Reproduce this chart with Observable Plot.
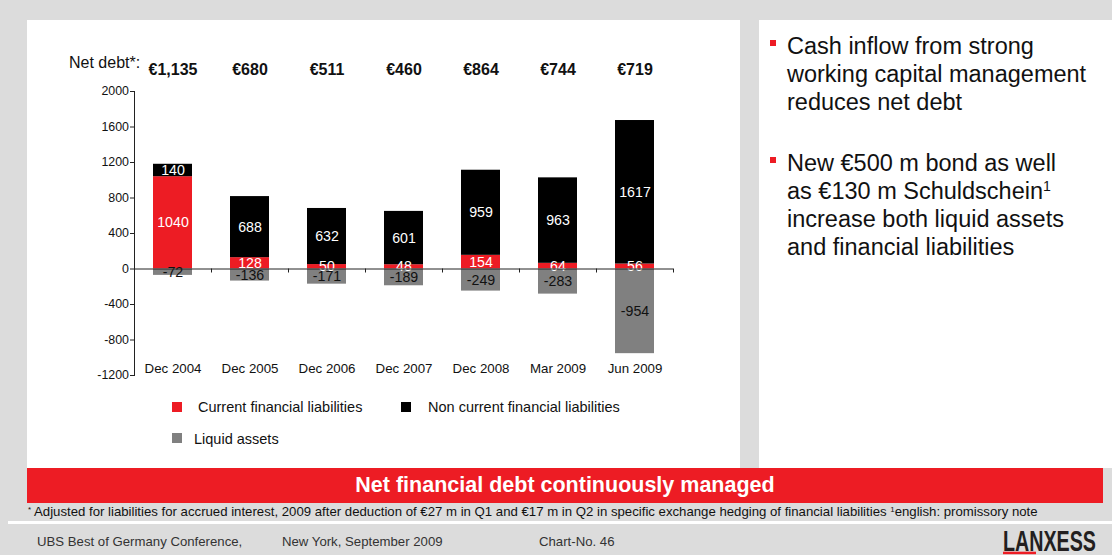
<!DOCTYPE html>
<html>
<head>
<meta charset="utf-8">
<script src="https://cdn.jsdelivr.net/npm/d3@7"></script>
<script src="https://cdn.jsdelivr.net/npm/@observablehq/plot@0.6"></script>
<style>
html,body{margin:0;padding:0;background:#dcdcdc;}
#page{position:relative;width:1112px;height:555px;overflow:hidden;background:#dcdcdc;font-family:"Liberation Sans",Arial,sans-serif;color:#111;}
.abs{position:absolute;white-space:nowrap;}
.panel{position:absolute;background:#fff;}
#chart{position:absolute;left:27px;top:20px;}
#chart svg{display:block;overflow:visible;}
.bullets{position:absolute;left:770px;top:33px;font-size:23.5px;line-height:27.8px;color:#111;}
.bullet{position:relative;padding-left:17px;margin-bottom:34px;}
.bullet::before{content:"";position:absolute;left:0;top:7px;width:6px;height:6px;background:#ed1c24;}
.sup{font-size:0.6em;vertical-align:0.55em;line-height:0;}
.legsq{position:absolute;width:10px;height:10px;}
.legtx{position:absolute;font-size:14.5px;line-height:16px;white-space:nowrap;color:#111;}
</style>
</head>
<body>
<div id="page">
  <div class="panel" style="left:27px;top:20px;width:713px;height:448px;"></div>
  <div class="panel" style="left:759px;top:20px;width:353px;height:448px;"></div>
  <div id="chart"></div>
  <div class="abs" style="left:69px;top:54px;font-size:16px;line-height:18px;color:#111;">Net debt*:</div>
  <div id="legend"></div>
  <div class="bullets">
    <div class="bullet">Cash inflow from strong<br>working capital management<br>reduces net debt</div>
    <div class="bullet">New €500 m bond as well<br>as €130 m Schuldschein<span class="sup">1</span><br>increase both liquid assets<br>and financial liabilities</div>
  </div>
  <div class="abs" style="left:27px;top:468px;width:1076px;height:35px;background:#ed1c24;color:#fff;font-weight:bold;font-size:21.5px;line-height:35px;text-align:center;">Net financial debt continuously managed</div>
  <div class="abs" style="left:28px;top:504px;font-size:13.2px;line-height:16px;color:#111;"><span class="sup">*</span> Adjusted for liabilities for accrued interest, 2009 after deduction of €27 m in Q1 and €17 m in Q2 in specific exchange hedging of financial liabilities <span class="sup">1</span>english: promissory note</div>
  <div class="abs" style="left:8px;top:521px;width:1104px;height:3px;background:#fff;"></div>
  <div class="abs" style="left:37px;top:534px;font-size:13.2px;line-height:16px;color:#333;">UBS Best of Germany Conference,</div>
  <div class="abs" style="left:282px;top:534px;font-size:13.2px;line-height:16px;color:#333;">New York, September 2009</div>
  <div class="abs" style="left:539px;top:534px;font-size:13.2px;line-height:16px;color:#333;">Chart-No. 46</div>
  <svg class="abs" style="left:995px;top:525px;" width="117" height="30">
    <text x="8" y="25.5" font-family="Liberation Sans Narrow, Arial Narrow, Liberation Sans, sans-serif" font-weight="bold" font-size="28.6" fill="#231f20" textLength="93" lengthAdjust="spacingAndGlyphs">LANXESS</text>
    <rect x="8" y="26.7" width="33" height="2.5" fill="#ed1c24"></rect>
  </svg>
</div>
<script>
const categories = ["Dec 2004","Dec 2005","Dec 2006","Dec 2007","Dec 2008","Mar 2009","Jun 2009"];
const currentLiabilities = [1040,128,50,48,154,64,56];
const nonCurrentLiabilities = [140,688,632,601,959,963,1617];
const liquidAssets = [-72,-136,-171,-189,-249,-283,-954];
const netDebtLabels = ["€1,135","€680","€511","€460","€864","€744","€719"];
const yTickValues = [-1200,-800,-400,0,400,800,1200,1600,2000];
const seriesNames = ["Current financial liabilities","Non current financial liabilities","Liquid assets"];
const seriesColors = ["#ed1c24","#000000","#808080"];

const rows = categories.flatMap((c,i)=>[
  {category:c, series:seriesNames[0], value:currentLiabilities[i]},
  {category:c, series:seriesNames[1], value:nonCurrentLiabilities[i]},
  {category:c, series:seriesNames[2], value:liquidAssets[i]}
]);
const liabRows = rows.filter(d=>d.series!==seriesNames[2]);
const liquidRows = rows.filter(d=>d.series===seriesNames[2]);

const fontFamily = '"Liberation Sans", Arial, sans-serif';

// small tick marks under the zero line at the category slot boundaries
const boundaryTicks = (index, scales) => {
  const x = scales.x, y = scales.y;
  const g = d3.create("svg:g").attr("stroke","#222").attr("stroke-width",1);
  for (const c of x.domain()) {
    const xe = Math.round(x(c) + x.bandwidth() + (x.step()-x.bandwidth())/2) + 0.5;
    g.append("line").attr("x1",xe).attr("x2",xe).attr("y1",y(0)).attr("y2",y(0)+4);
  }
  return g.node();
};

const chart = Plot.plot({
  width:713, height:380,
  marginLeft:107, marginRight:67, marginTop:71, marginBottom:25,
  style:{background:"transparent", fontFamily, color:"#1a1a1a", overflow:"visible"},
  x:{domain:categories, paddingInner:0.5, paddingOuter:0.25, axis:null},
  y:{domain:[-1200,2000], axis:null},
  color:{domain:seriesNames, range:seriesColors},
  marks:[
    Plot.barY(rows, {x:"category", y:"value", fill:"series"}),
    Plot.text(liabRows, Plot.stackY({x:"category", y:"value", z:"series", text:d=>String(d.value), fill:"#fff", fontSize:14.2})),
    Plot.text(liquidRows, Plot.stackY({x:"category", y:"value", z:"series", text:d=>String(d.value), fill:"#111", fontSize:14.2})),
    Plot.ruleY([0], {stroke:"#222"}),
    Plot.frame({anchor:"left", stroke:"#222"}),
    Plot.axisY({ticks:yTickValues, tickSize:4, tickPadding:1.5, tickFormat:d=>String(d), fontSize:12.4, label:null, stroke:"#222", fill:"#111"}),
    boundaryTicks,
    Plot.text(categories, {x:d=>d, text:d=>d, frameAnchor:"bottom", dy:-3, fontSize:13.3, fill:"#111"}),
    Plot.text(netDebtLabels, {x:(d,i)=>categories[i], text:d=>d, frameAnchor:"top", dy:-28, fontSize:16, fontWeight:"bold", fill:"#111"})
  ]
});
document.getElementById("chart").appendChild(chart);

// legend
const legendPos = [
  {sq:[172,402], tx:[198,399]},
  {sq:[401,402], tx:[428,399]},
  {sq:[172,433], tx:[194,431]}
];
const legend = document.getElementById("legend");
seriesNames.forEach((name,i)=>{
  const p = legendPos[i];
  const sq = document.createElement("div");
  sq.className = "legsq";
  sq.style.left = p.sq[0]+"px"; sq.style.top = p.sq[1]+"px"; sq.style.background = seriesColors[i];
  const tx = document.createElement("div");
  tx.className = "legtx";
  tx.style.left = p.tx[0]+"px"; tx.style.top = p.tx[1]+"px";
  tx.textContent = name;
  legend.appendChild(sq); legend.appendChild(tx);
});
</script>
</body>
</html>
